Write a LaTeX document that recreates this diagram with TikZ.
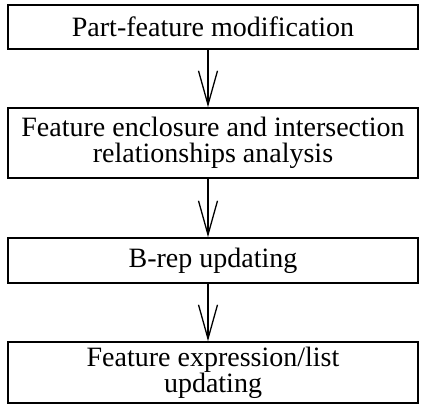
\documentclass[tikz,border=0pt]{standalone}
\usepackage{fontspec}
\setmainfont{Liberation Serif}
\usetikzlibrary{arrows.meta}
\usetikzlibrary{positioning}

\tikzset{
	stagebox/.style = {draw, line width=1.6pt, minimum width=410pt, align=center, inner sep=0pt,
		font=\fontsize{28}{26}\selectfont},
	flow/.style = {line width=1.3pt, -{Straight Barb[length=34pt, width=19pt, line width=1.3pt]}}
}

\begin{document}
\begin{tikzpicture}[x=1pt, y=1pt]
		\useasboundingbox (0,0) rectangle (422,-404);
		\node[stagebox, minimum height=44pt] (modify) at (213,-27) {Part-feature modification};
		\node[stagebox, minimum height=70pt] (analyse) at (213,-143) {Feature enclosure and intersection\\relationships analysis};
		\node[stagebox, minimum height=45pt] (brep) at (213,-260.5) {B-rep updating};
		\node[stagebox, minimum height=61pt] (featlist) at (213,-372.5) {Feature expression/list\\updating};
		\draw[flow] ([xshift=-5pt]modify.south) -- ([xshift=-5pt]analyse.north);
		\draw[flow] ([xshift=-5pt]analyse.south) -- ([xshift=-5pt]brep.north);
		\draw[flow] ([xshift=-5pt]brep.south) -- ([xshift=-5pt]featlist.north);
	\end{tikzpicture}
\end{document}
